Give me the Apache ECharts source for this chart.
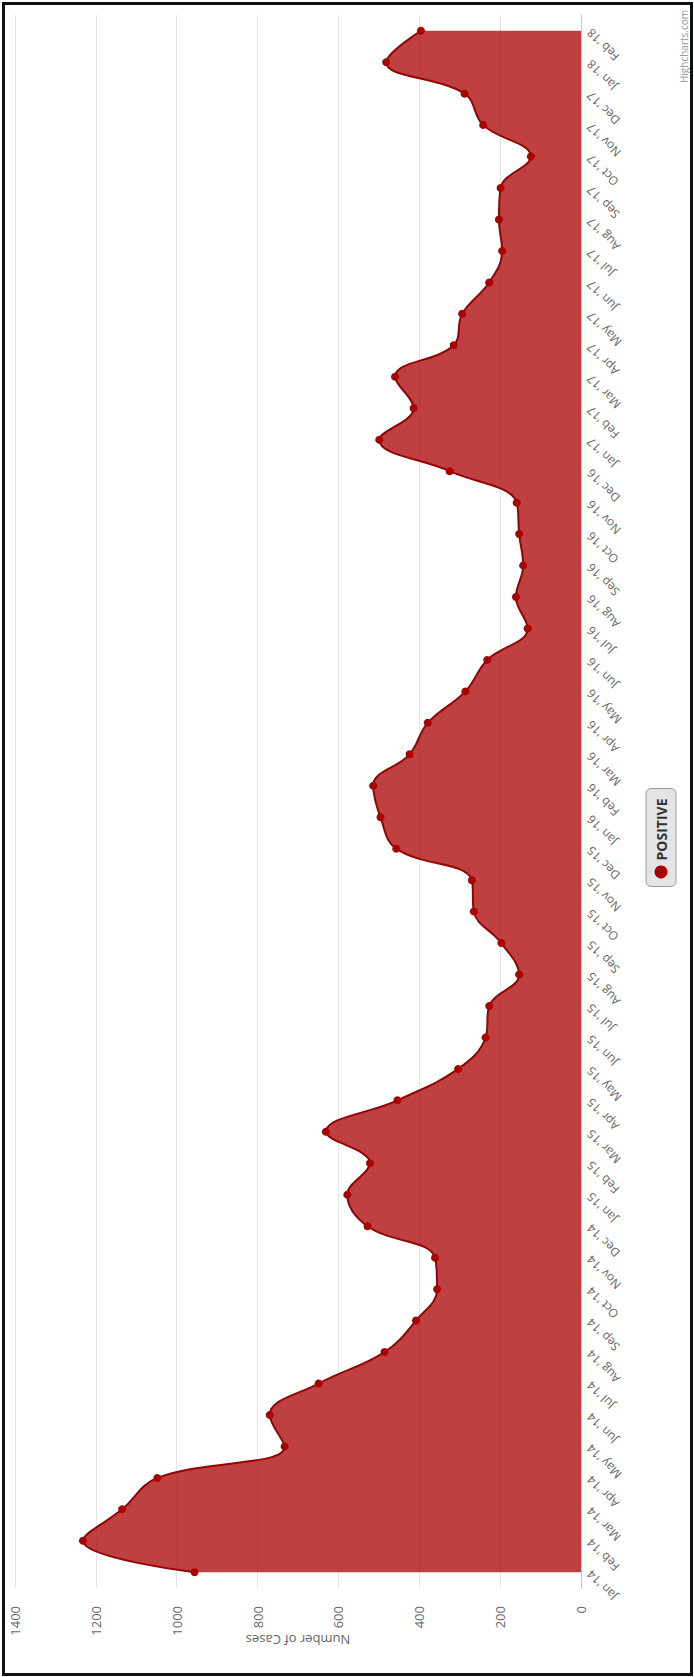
<!DOCTYPE html>
<html lang="en">
<head>
    <meta charset="UTF-8">
    <title>Positive cases</title>
    <style>
        html, body { margin: 0; padding: 0; background: #fff; overflow: hidden; }
        #wrap { position: absolute; left: 0; top: 0; width: 1677px; height: 694px;
                transform-origin: 0 0; transform: translate(0, 1677px) rotate(-90deg); }
        #main { width: 1677px; height: 694px; }
        #frame { position: absolute; left: 2px; top: 2px; width: 691px; height: 1674px;
                 box-sizing: border-box; border: 3px solid #111; pointer-events: none; }
    </style>
</head>
<body>
<div id="wrap"><div id="main"></div></div>
<div id="frame"></div>
<script src="https://cdn.jsdelivr.net/npm/echarts@6/dist/echarts.min.js"></script>
<script>
    var months = ["Jan '14", "Feb '14", "Mar '14", "Apr '14", "May '14", "Jun '14", "Jul '14", "Aug '14", "Sep '14", "Oct '14", "Nov '14", "Dec '14",
        "Jan '15", "Feb '15", "Mar '15", "Apr '15", "May '15", "Jun '15", "Jul '15", "Aug '15", "Sep '15", "Oct '15", "Nov '15", "Dec '15",
        "Jan '16", "Feb '16", "Mar '16", "Apr '16", "May '16", "Jun '16", "Jul '16", "Aug '16", "Sep '16", "Oct '16", "Nov '16", "Dec '16",
        "Jan '17", "Feb '17", "Mar '17", "Apr '17", "May '17", "Jun '17", "Jul '17", "Aug '17", "Sep '17", "Oct '17", "Nov '17", "Dec '17",
        "Jan '18", "Feb '18"];
    var positive = [956, 1232, 1135, 1048, 733, 770, 649, 486, 408, 356, 361, 528,
        578, 522, 631, 454, 304, 236, 227, 153, 197, 265, 270, 457,
        496, 514, 424, 379, 286, 232, 132, 161, 143, 153, 159, 325,
        499, 414, 460, 315, 294, 227, 195, 203, 199, 124, 242, 288,
        482, 396];
    var valueTicks = [0, 200, 400, 600, 800, 1000, 1200, 1400];

    var font = '"Open Sans", "DejaVu Sans", sans-serif';
    // the chart is drawn landscape and the whole div is turned a quarter left
    var myChart = echarts.init(document.getElementById('main'), null, {renderer: 'svg', width: 1677, height: 694});
    var option = {
        backgroundColor: '#fff',
        animation: false,
        grid: {left: 89, right: 15, top: 15, bottom: 113, containLabel: false, outerBoundsMode: 'none'},
        legend: {
            data: ['POSITIVE'],
            left: 'center',
            bottom: 18,
            icon: 'circle',
            itemWidth: 13,
            itemHeight: 13,
            itemGap: 5,
            padding: [8, 10, 8, 8],
            backgroundColor: '#e4e4e4',
            borderColor: '#999',
            borderWidth: 1,
            borderRadius: 5,
            textStyle: {color: '#333', fontSize: 14, fontWeight: 'bold', fontFamily: font}
        },
        xAxis: {
            type: 'category',
            data: months,
            boundaryGap: true,
            axisLine: {lineStyle: {color: '#c8c8c8'}},
            axisTick: {alignWithLabel: true, length: 10, lineStyle: {color: '#c8c8c8'}},
            axisLabel: {interval: 0, rotate: 45, margin: 8, color: '#666', fontSize: 12, fontFamily: font},
            splitLine: {show: false}
        },
        yAxis: {
            type: 'value',
            min: valueTicks[0],
            max: valueTicks[valueTicks.length - 1],
            interval: 200,
            name: 'Number of Cases',
            nameLocation: 'middle',
            nameGap: 45,
            nameMoveOverlap: false,
            nameTextStyle: {color: '#666', fontSize: 13, fontFamily: font},
            axisLine: {show: false},
            axisTick: {show: false},
            axisLabel: {
                margin: 18, color: '#666', fontSize: 13, fontFamily: font,
                formatter: function (v) { return String(v); }
            },
            splitLine: {lineStyle: {color: '#e6e6e6', width: 1}}
        },
        series: [{
            name: 'POSITIVE',
            type: 'line',
            data: positive,
            smooth: 0.4,
            symbol: 'circle',
            symbolSize: 8,
            showAllSymbol: true,
            lineStyle: {color: '#9a0000', width: 2},
            itemStyle: {color: '#aa0000'},
            areaStyle: {color: '#aa0000', opacity: 0.75}
        }],
        graphic: [{
            type: 'text',
            right: 10,
            bottom: 5,
            style: {text: 'Highcharts.com', fill: '#999', font: '10px ' + font}
        }]
    };
    myChart.setOption(option);
</script>
</body>
</html>
